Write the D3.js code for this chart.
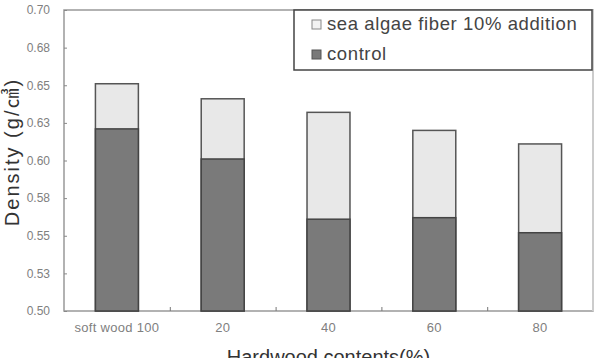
<!DOCTYPE html>
<html>
<head>
<meta charset="utf-8">
<title>Density by hardwood contents</title>
<script src="https://cdn.jsdelivr.net/npm/d3@7"></script>
<style>
  body { margin: 0; background: #fff; }
  svg { display: block; }
</style>
</head>
<body>
<div id="chart"></div>
<script>
// data
var categories = ["soft wood 100", "20", "40", "60", "80"];
var control = [0.621, 0.601, 0.561, 0.562, 0.552];
var addition = [0.651, 0.641, 0.632, 0.620, 0.611];
var yTicks = [0.5, 0.525, 0.55, 0.575, 0.6, 0.625, 0.65, 0.675, 0.7];
var yTickLabels = ["0.50", "0.53", "0.55", "0.58", "0.60", "0.63", "0.65", "0.68", "0.70"];
var legendLabels = ["sea algae fiber  10% addition", "control"];

var width = 602, height = 358;
var plotLeft = 64, plotRight = 593, plotTop = 10, plotBottom = 311;

var svg = d3.select("#chart").append("svg")
  .attr("width", width).attr("height", height);

var x = d3.scaleBand().domain(categories).range([plotLeft, plotRight])
  .paddingInner(0.594).paddingOuter(0.297);
var y = d3.scaleLinear().domain([0.5, 0.7]).range([plotBottom, plotTop]);

// plot frame
svg.append("rect")
  .attr("x", plotLeft).attr("y", plotTop)
  .attr("width", plotRight - plotLeft).attr("height", plotBottom - plotTop)
  .attr("fill", "none").attr("stroke", "#999").attr("stroke-width", 1.5);
svg.append("line")
  .attr("x1", plotRight).attr("x2", plotRight).attr("y1", plotTop).attr("y2", plotBottom)
  .attr("stroke", "#ccc").attr("stroke-width", 2);

// bars: addition is the full bar, control drawn over it
var bars = svg.append("g");
bars.selectAll("rect.add")
  .data(categories)
  .enter().append("rect")
  .attr("class", "add")
  .attr("x", function (d) { return x(d); })
  .attr("width", x.bandwidth())
  .attr("y", function (d, i) { return y(addition[i]); })
  .attr("height", function (d, i) { return y(0.5) - y(addition[i]); })
  .attr("fill", "#e8e8e8").attr("stroke", "#555").attr("stroke-width", 1.5);
bars.selectAll("rect.ctl")
  .data(categories)
  .enter().append("rect")
  .attr("class", "ctl")
  .attr("x", function (d) { return x(d); })
  .attr("width", x.bandwidth())
  .attr("y", function (d, i) { return y(control[i]); })
  .attr("height", function (d, i) { return y(0.5) - y(control[i]); })
  .attr("fill", "#7a7a7a").attr("stroke", "#444").attr("stroke-width", 1.5);

// y axis
var yAxis = d3.axisLeft(y)
  .tickValues(yTicks)
  .tickFormat(function (d, i) { return yTickLabels[i]; })
  .tickSizeInner(-3).tickSizeOuter(0).tickPadding(14);
var gy = svg.append("g").attr("transform", "translate(" + plotLeft + ",0)").call(yAxis);
gy.select(".domain").remove();
gy.selectAll("line").attr("stroke", "#888");
gy.selectAll("text")
  .attr("fill", "#808080")
  .style("font-family", "'Liberation Sans', Arial, sans-serif")
  .style("font-size", "12px");

// x labels
var xAxis = d3.axisBottom(x).tickSize(0).tickPadding(12);
var gx = svg.append("g").attr("transform", "translate(0," + plotBottom + ")").call(xAxis);
gx.select(".domain").remove();
gx.selectAll("text")
  .attr("fill", "#808080")
  .style("font-family", "'Liberation Sans', Arial, sans-serif")
  .style("font-size", "13px")
  .style("letter-spacing", "0.3px");

// small ticks between categories
var xb = d3.scaleLinear().domain([0, categories.length]).range([plotLeft, plotRight]);
var gb = svg.append("g").attr("transform", "translate(0," + plotBottom + ")")
  .call(d3.axisBottom(xb).tickValues(d3.range(1, categories.length)).tickSizeInner(-4).tickSizeOuter(0).tickFormat(""));
gb.select(".domain").remove();
gb.selectAll("line").attr("stroke", "#777");

// axis titles
svg.append("text")
  .attr("transform", "translate(19,152) rotate(-90)")
  .attr("text-anchor", "middle")
  .attr("fill", "#333")
  .style("font-family", "'Liberation Sans', Arial, 'Noto Sans CJK KR', sans-serif")
  .style("font-size", "20px")
  .style("letter-spacing", "2px")
  .text("Density (g/㎤)");

svg.append("text")
  .attr("x", (plotLeft + plotRight) / 2).attr("y", 364)
  .attr("text-anchor", "middle")
  .attr("fill", "#333")
  .style("font-family", "'Liberation Sans', Arial, sans-serif")
  .style("font-size", "20px")
  .text("Hardwood contents(%)");

// legend
var lg = svg.append("g");
lg.append("rect")
  .attr("x", 294).attr("y", plotTop).attr("width", 298).attr("height", 60)
  .attr("fill", "#fff").attr("stroke", "#444").attr("stroke-width", 1.5);
var swatchFill = ["#f2f2f2", "#7a7a7a"];
var swatchStroke = ["#888", "#555"];
var items = lg.selectAll("g.item").data(legendLabels).enter().append("g")
  .attr("class", "item")
  .attr("transform", function (d, i) { return "translate(312," + (20 + i * 30) + ")"; });
items.append("rect")
  .attr("width", 9).attr("height", 9)
  .attr("fill", function (d, i) { return swatchFill[i]; })
  .attr("stroke", function (d, i) { return swatchStroke[i]; });
items.append("text")
  .attr("x", 15).attr("y", 10)
  .attr("fill", "#444")
  .style("font-family", "'Liberation Sans', Arial, sans-serif")
  .style("font-size", "18.5px")
  .style("letter-spacing", "0.6px")
  .text(function (d) { return d; });
</script>
</body>
</html>
